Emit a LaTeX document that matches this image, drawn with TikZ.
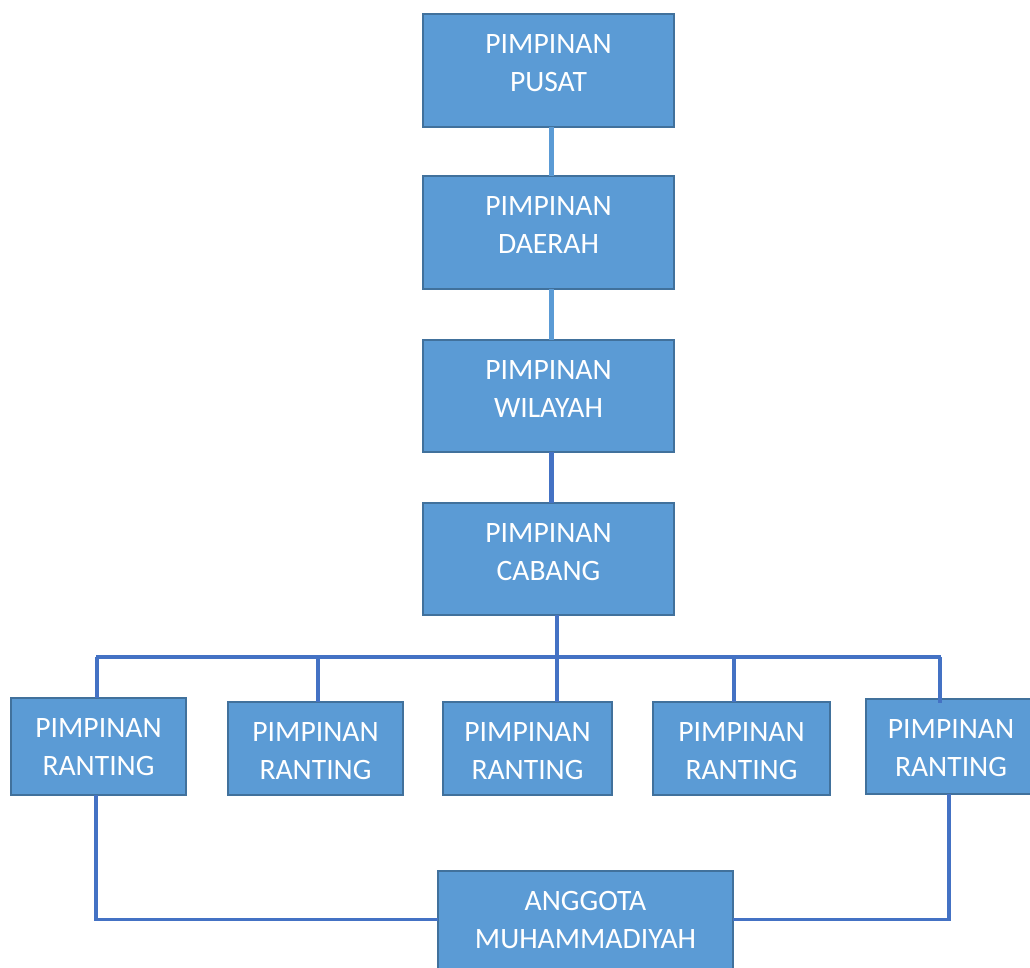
\documentclass[tikz,border=0pt]{standalone}
\usepackage{fontspec}
\setmainfont{Carlito}
\usetikzlibrary{calc}
\definecolor{boxfill}{HTML}{5B9BD5}
\definecolor{boxline}{HTML}{41719C}
\definecolor{linkdark}{HTML}{4472C4}
\definecolor{linklight}{HTML}{5B9BD5}
\tikzset{
  orgbox/.style={draw=boxline, line width=2pt, fill=boxfill, inner sep=0pt, outer sep=0pt, anchor=north west},
  orgtxt/.style={text=white, align=center, inner sep=0pt, font=\fontsize{29.6}{38.5}\selectfont},
  lightlink/.style={draw=linklight, line width=5.5pt},
  darklink/.style={draw=linkdark, line width=3.6pt},
}
\begin{document}
\begin{tikzpicture}[x=1pt,y=-1pt]
\useasboundingbox (0,0) rectangle (1030,968);
\clip (0,0) rectangle (1030,968);
\coordinate (busL) at (96,657);
\coordinate (busR) at (941,657);
\coordinate (d1) at (97,657);
\coordinate (d2) at (318,657);
\coordinate (d3) at (557,657);
\coordinate (d4) at (734,657);
\coordinate (d5) at (940,657);
% boxes
\node[orgbox, minimum width=251pt, minimum height=113pt] (pusat) at (423,14) {};
\node[orgbox, minimum width=251pt, minimum height=113pt] (daerah) at (423,176) {};
\node[orgbox, minimum width=251pt, minimum height=112pt] (wilayah) at (423,340) {};
\node[orgbox, minimum width=251pt, minimum height=112pt] (cabang) at (423,503) {};
\node[orgbox, minimum width=175pt, minimum height=97pt] (r1) at (11,698) {};
\node[orgbox, minimum width=175pt, minimum height=93pt] (r2) at (228,702) {};
\node[orgbox, minimum width=169pt, minimum height=93pt] (r3) at (443,702) {};
\node[orgbox, minimum width=177pt, minimum height=93pt] (r4) at (653,702) {};
\node[orgbox, minimum width=170pt, minimum height=95pt] (r5) at (866,699) {};
\node[orgbox, minimum width=295pt, minimum height=99pt] (anggota) at (438,871) {};
% connectors
\draw[lightlink] ([xshift=3pt]pusat.south) -- ([xshift=3pt]daerah.north);
\draw[lightlink] ([xshift=3pt]daerah.south) -- ([xshift=3pt]wilayah.north);
\draw[darklink, line width=5pt] ([xshift=3pt]wilayah.south) -- ([xshift=3pt]cabang.north);
\draw[darklink] (cabang.south -| d3) -- (d3);
\draw[darklink] (busL) -- (busR);
\draw[darklink] (d1) -- (d1 |- r1.north);
\draw[darklink] (d2) -- (d2 |- r2.north);
\draw[darklink] (d3) -- (d3 |- r3.north);
\draw[darklink] (d4) -- (d4 |- r4.north);
\draw[darklink] (d5) -- ([yshift=-4pt]d5 |- r5.north);
\draw[darklink, line width=3.2pt] ([xshift=-2.5pt]r1.south) |- ([yshift=1pt]anggota.west);
\draw[darklink, line width=3.2pt] ([xshift=-2pt]r5.south) |- ([yshift=1pt]anggota.east);
% texts
\node[orgtxt] (pusatT) at ($(pusat.north)+(0,49)$) {PIMPINAN\\PUSAT};
\node[orgtxt] (daerahT) at ($(daerah.north)+(0,49)$) {PIMPINAN\\DAERAH};
\node[orgtxt] (wilayahT) at ($(wilayah.north)+(0,49)$) {PIMPINAN\\WILAYAH};
\node[orgtxt] (cabangT) at ($(cabang.north)+(0,49)$) {PIMPINAN\\CABANG};
\node[orgtxt] (r1T) at ($(r1.north)+(0,49)$) {PIMPINAN\\RANTING};
\node[orgtxt] (r2T) at ($(r2.north)+(0,49)$) {PIMPINAN\\RANTING};
\node[orgtxt] (r3T) at ($(r3.north)+(0,49)$) {PIMPINAN\\RANTING};
\node[orgtxt] (r4T) at ($(r4.north)+(0,49)$) {PIMPINAN\\RANTING};
\node[orgtxt] (r5T) at ($(r5.north)+(0,49)$) {PIMPINAN\\RANTING};
\node[orgtxt] (anggotaT) at ($(anggota.north)+(0,49)$) {ANGGOTA\\MUHAMMADIYAH};
\end{tikzpicture}
\end{document}
